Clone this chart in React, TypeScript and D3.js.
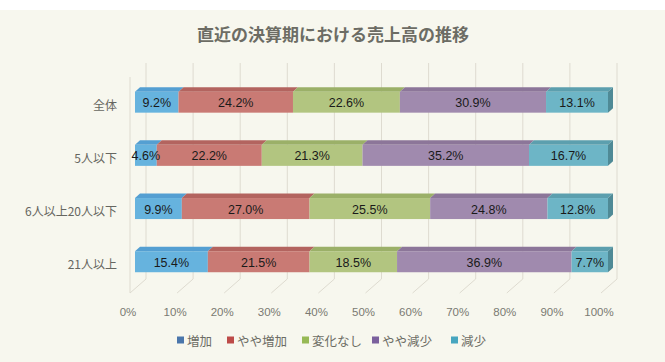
import React from "react";
import { scaleLinear, scaleBand } from "d3";

const categories = ["全体", "5人以下", "6人以上20人以下", "21人以上"];
const seriesNames = ["増加", "やや増加", "変化なし", "やや減少", "減少"];
const increase = [9.2, 4.6, 9.9, 15.4];
const slightIncrease = [24.2, 22.2, 27.0, 21.5];
const noChange = [22.6, 21.3, 25.5, 18.5];
const slightDecrease = [30.9, 35.2, 24.8, 36.9];
const decrease = [13.1, 16.7, 12.8, 7.7];
const ticks = [0, 10, 20, 30, 40, 50, 60, 70, 80, 90, 100];

const series = [increase, slightIncrease, noChange, slightDecrease, decrease];

const frontColors = ["#66b3de", "#c97a74", "#b2c580", "#a08aae", "#6db5c6"];
const topColors = ["#549fd2", "#b3645f", "#9bb068", "#8c7699", "#5c9fae"];
const sideColor = "#4f8a96";
const legendColors = ["#4a76ab", "#bd4b48", "#97b955", "#7b609d", "#47a6bf"];

const W = 665;
const H = 362;
const DX = 5;
const DY = 4.5;

export default function App() {
  const x = scaleLinear().domain([0, 100]).range([135, 608]);
  const floorFront = scaleLinear().domain([0, 100]).range([130, 601]);
  const floorBack = scaleLinear().domain([0, 100]).range([146, 617]);
  const floorFrontY = 293;
  const floorBackY = 279;
  const wallTop = 63;

  const y = scaleBand<string>()
    .domain(categories)
    .range([75.7, 288.2])
    .paddingInner(0.605)
    .paddingOuter(0.3);
  const bh = y.bandwidth();

  const legendX = [177, 227, 302, 372, 451];

  return (
    <svg width={W} height={H} style={{ position: "absolute", left: 0, top: 0 }}>
      <rect x={0} y={0} width={W} height={H} fill="#ffffff" />
      <rect x={0} y={10} width={W} height={H - 10} fill="#f7f7ee" />

      <text
        x={333}
        y={33}
        textAnchor="middle"
        dominantBaseline="central"
        fontFamily="'Noto Sans CJK JP', sans-serif"
        fontWeight="bold"
        fontSize={17}
        fill="#6c6c64"
      >
        直近の決算期における売上高の推移
      </text>

      {/* side wall edge */}
      <line x1={floorFront(0)} y1={wallTop + 14} x2={floorFront(0)} y2={floorFrontY} stroke="#dedbd0" />
      {/* back wall + floor grid */}
      {ticks.map((t) => (
        <g key={t} stroke="#dedbd0" strokeWidth={1}>
          <line x1={floorBack(t)} y1={wallTop} x2={floorBack(t)} y2={floorBackY} />
          <line x1={floorFront(t)} y1={floorFrontY} x2={floorBack(t)} y2={floorBackY} />
        </g>
      ))}

      {/* bars */}
      {categories.map((c, i) => {
        const top = y(c) as number;
        let acc = 0;
        const segs = series.map((s, k) => {
          const v = s[i];
          const x0 = x(acc);
          const x1 = x(acc + v);
          acc += v;
          return { k, v, x0, x1 };
        });
        const last = segs[segs.length - 1];
        return (
          <g key={c}>
            {segs.map(({ k, x0, x1 }) => (
              <polygon
                key={"t" + k}
                points={`${x0},${top} ${x1},${top} ${x1 + DX},${top - DY} ${x0 + DX},${top - DY}`}
                fill={topColors[k]}
              />
            ))}
            <polygon
              points={`${last.x1},${top} ${last.x1 + DX},${top - DY} ${last.x1 + DX},${top + bh - DY} ${last.x1},${top + bh}`}
              fill={sideColor}
            />
            {segs.map(({ k, x0, x1 }) => (
              <rect key={"f" + k} x={x0} y={top} width={x1 - x0} height={bh} fill={frontColors[k]} />
            ))}
            {segs.map(({ k, v, x0, x1 }) => (
              <text
                key={"l" + k}
                x={(x0 + x1) / 2}
                y={top + bh / 2 + 1}
                textAnchor="middle"
                dominantBaseline="central"
                fontFamily="'Liberation Sans Narrow', 'Liberation Sans', sans-serif"
                fontSize={12.5}
                fill="#1a1a1a"
              >
                {v.toFixed(1)}%
              </text>
            ))}
            <text
              x={117}
              y={top + bh / 2 + 2}
              textAnchor="end"
              dominantBaseline="central"
              fontFamily="'Noto Sans CJK JP', sans-serif"
              fontSize={12}
              fill="#666660"
            >
              {c}
            </text>
          </g>
        );
      })}

      {/* x tick labels */}
      {ticks.map((t) => (
        <text
          key={"x" + t}
          x={floorFront(t) - 2}
          y={312}
          textAnchor="middle"
          dominantBaseline="central"
          fontFamily="'Liberation Sans Narrow', 'Liberation Sans', sans-serif"
          fontSize={11.5}
          fill="#7a7a72"
        >
          {t}%
        </text>
      ))}

      {/* legend */}
      {seriesNames.map((n, k) => (
        <g key={n}>
          <rect x={legendX[k]} y={336.5} width={7} height={7} fill={legendColors[k]} />
          <text
            x={legendX[k] + 10}
            y={340}
            dominantBaseline="central"
            fontFamily="'Noto Sans CJK JP', sans-serif"
            fontSize={12.5}
            fill="#6c6c64"
          >
            {n}
          </text>
        </g>
      ))}
    </svg>
  );
}
